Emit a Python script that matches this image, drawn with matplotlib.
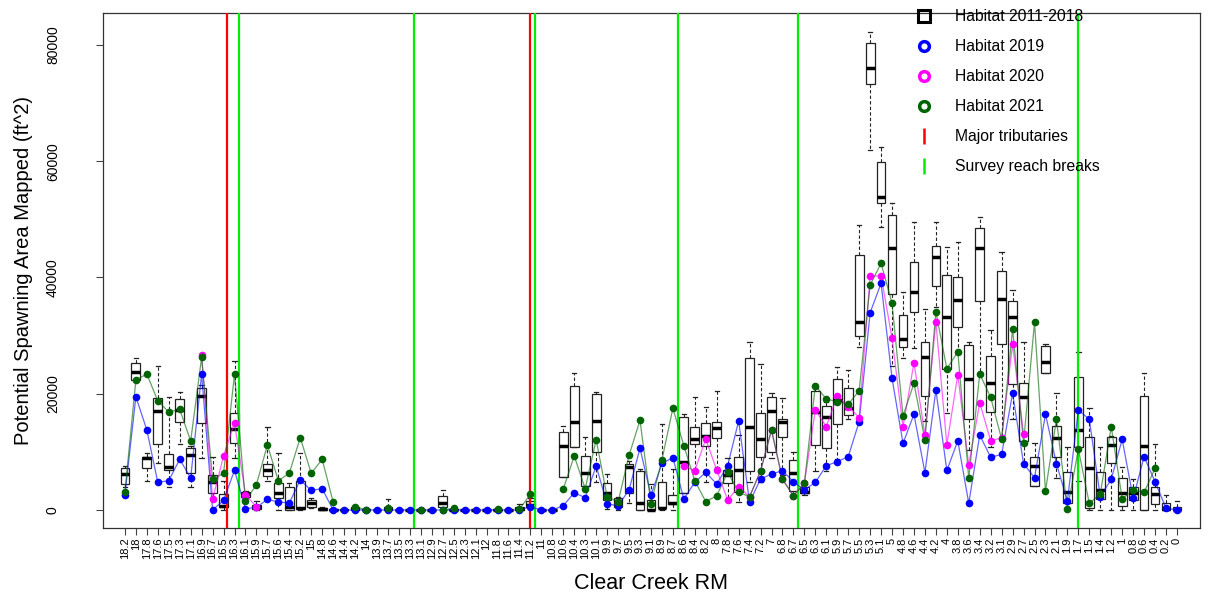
import numpy as np
import matplotlib
matplotlib.use("Agg")
import matplotlib.pyplot as plt
from matplotlib.lines import Line2D

plt.rcParams['font.family'] = ['Liberation Sans', 'DejaVu Sans']

nan = np.nan

# river mile labels, upstream -> downstream
rm_labels = ["18.2", "18", "17.8", "17.6", "17.5", "17.3", "17.1", "16.9", "16.7", "16.5",
             "16.3", "16.1", "15.9", "15.7", "15.6", "15.4", "15.2", "15", "14.8", "14.6",
             "14.4", "14.2", "14", "13.9", "13.7", "13.5", "13.3", "13.1", "12.9", "12.7",
             "12.5", "12.3", "12.1", "12", "11.8", "11.6", "11.4", "11.2", "11", "10.8",
             "10.6", "10.4", "10.3", "10.1", "9.9", "9.7", "9.5", "9.3", "9.1", "8.9",
             "8.7", "8.6", "8.4", "8.2", "8", "7.8", "7.6", "7.4", "7.2", "7",
             "6.8", "6.7", "6.5", "6.3", "6.1", "5.9", "5.7", "5.5", "5.3", "5.1",
             "5", "4.8", "4.6", "4.4", "4.2", "4", "3.8", "3.6", "3.4", "3.2",
             "3.1", "2.9", "2.7", "2.5", "2.3", "2.1", "1.9", "1.7", "1.5", "1.4",
             "1.2", "1", "0.8", "0.6", "0.4", "0.2", "0"]

# 2011-2018 box stats (whisker low, q1, median, q3, whisker high)
hab_lo = [4000, 22360, 4990, 8000, 4010, 11300, 4010, 8890, 2000, 0,
          8890, 2000, 0, 5050, 0, 0, 0, 300, 0, 0,
          0, 0, 0, 0, 0, 0, 0, 0, 0, 0,
          0, 0, 0, 0, 0, 0, 0, 400, 0, 0,
          5730, 10890, 4130, 4870, 170, 0, 1260, 0, 0, 0,
          0, 2870, 6760, 4760, 7340, 1720, 1430, 4760, 4760, 9000,
          6000, 2580, 2500, 6760, 6760, 8770, 15650, 28090, 61920, 48730,
          24770, 26090, 27810, 15360, 35000, 16700, 26950, 10320, 23510, 10890,
          12160, 15600, 8000, 4180, 23510, 5450, 1260, 5000, 0, 0,
          0, 0, 0, 0, 0, 0, 0]
hab_q1 = [4470, 22360, 7280, 11350, 6880, 15190, 6310, 14910, 2870, 570,
          11470, 2290, 200, 5850, 2010, 0, 170, 570, 0, 0,
          0, 0, 0, 0, 0, 0, 0, 0, 0, 570,
          0, 0, 0, 0, 0, 0, 0, 600, 0, 0,
          5730, 10890, 4130, 9920, 1720, 570, 2870, 0, 0, 300,
          1030, 2870, 11350, 11060, 12330, 4590, 3150, 6760, 9060, 10030,
          12500, 3270, 2870, 11180, 10610, 14790, 16340, 29980, 73270, 52860,
          37150, 28090, 34110, 19660, 38530, 24280, 31560, 15600, 35950, 16800,
          28550, 21670, 11920, 4180, 23510, 9060, 1260, 10890, 290, 1840,
          8140, 690, 1720, 0, 980, 0, 0]
hab_med = [6190, 23790, 8890, 17030, 7450, 17200, 9460, 19660, 4800, 740,
           13880, 2700, 500, 6880, 2870, 500, 400, 1150, 100, 0,
           0, 200, 0, 0, 200, 0, 0, 0, 0, 1260,
           0, 0, 0, 0, 0, 0, 200, 900, 0, 0,
           11010, 15190, 6420, 15370, 2870, 1490, 7340, 1260, 0, 400,
           1200, 8310, 12210, 12780, 14050, 6020, 6880, 14220, 12210, 17030,
           15190, 6310, 3100, 16860, 15940, 18920, 17490, 32390, 75970, 53780,
           45120, 29410, 37440, 26370, 43570, 33250, 36120, 22480, 45010, 21790,
           36240, 33250, 19380, 7620, 25400, 12440, 3150, 13760, 7170, 3440,
           11180, 2870, 2870, 11060, 2750, 170, 0]
hab_q3 = [7170, 25230, 9170, 19210, 9580, 19150, 10610, 21040, 6020, 2700,
          16630, 3040, 900, 7860, 4590, 3900, 5050, 1720, 300, 100,
          100, 600, 100, 0, 570, 0, 0, 0, 0, 2410,
          200, 0, 0, 0, 100, 0, 500, 1500, 0, 0,
          13360, 21390, 9340, 19900, 4590, 2010, 7860, 6710, 1720, 4800,
          2580, 15940, 14330, 15020, 15190, 6880, 9170, 26090, 16630, 19490,
          15600, 8600, 3900, 20520, 17890, 22530, 20930, 43860, 80270, 59800,
          50740, 33540, 42710, 28950, 45460, 40470, 40070, 28380, 48450, 26540,
          41110, 36000, 21900, 9060, 28210, 14500, 6480, 22820, 12610, 6480,
          12500, 5450, 3900, 19660, 3900, 1260, 500]
hab_hi = [7500, 26140, 9860, 24820, 19380, 20350, 11000, 21500, 9170, 5000,
          25630, 3300, 1500, 14220, 9750, 4590, 9750, 2000, 600, 300,
          300, 900, 200, 0, 1890, 0, 0, 100, 0, 3440,
          400, 0, 0, 100, 300, 0, 1030, 2000, 0, 0,
          14510, 23510, 12610, 20350, 6190, 2300, 8500, 7000, 4470, 14800,
          7000, 16510, 19380, 17660, 20520, 8890, 12900, 28840, 25110, 20180,
          19210, 10030, 4500, 21000, 18500, 24540, 24080, 49020, 82160, 62380,
          52750, 37440, 49480, 34570, 49530, 45300, 46150, 28950, 50450, 30960,
          44320, 37840, 28840, 11470, 28500, 20070, 10780, 27120, 17490, 10780,
          12800, 7450, 5270, 23620, 11350, 2580, 1600]

hab_2019 = [2580, 19490, 13760, 4760, 5050, 8720, 5500, 23390, 0, 1660,
            6820, 230, 460, 1830, 1380, 1200, 5160, 3380, 3670, 0,
            0, 0, 0, 0, 0, 0, 0, 0, 0, 0,
            0, 0, 0, 0, 0, 0, 0, 570, 0, 0,
            740, 2980, 2120, 7570, 1030, 740, 3440, 10610, 2520, 8000,
            9000, 1890, 4760, 6480, 4470, 7620, 15310, 1320, 5330, 6190,
            6760, 4870, 3440, 4760, 7620, 8310, 9170, 15190, 33940, 38990,
            22650, 11470, 16460, 6420, 20640, 6800, 11900, 1150, 12900, 9060,
            9580, 20070, 7970, 5560, 16460, 7970, 1550, 17200, 15600, 2290,
            5270, 12160, 2010, 9170, 4870, 290, 0]

hab_2020 = [nan, nan, nan, nan, nan, nan, nan, 26660, 1830, 9290,
            15020, 2640, 570, nan, nan, nan, nan, nan, nan, nan,
            nan, nan, nan, nan, nan, nan, nan, nan, nan, nan,
            nan, nan, nan, nan, nan, nan, nan, nan, nan, nan,
            nan, nan, nan, nan, nan, nan, nan, nan, nan, nan,
            nan, 7620, 6760, 12210, 6880, 1720, 4010, 2290, 6710, 13760,
            5270, 2460, 4590, 17200, 14330, 19610, 17800, 15880, 40250, 40250,
            29530, 14330, 25340, 12900, 32390, 11200, 23300, 7740, 18460, 11870,
            12440, 28550, 13070, nan, nan, nan, nan, nan, nan, nan,
            nan, nan, nan, nan, nan, nan, nan]

hab_2021 = [3150, 22360, 23390, 18750, 16860, 17310, 11870, 26260, 5270, 6310,
            23330, 1550, 4360, 11180, 5050, 6310, 12440, 6310, 8720, 1380,
            nan, 570, 0, nan, 290, nan, nan, 0, nan, 0,
            290, nan, nan, nan, 100, nan, 100, 2750, nan, nan,
            3610, 9290, 3670, 12090, 2290, 1380, 9400, 15420, 1090, 8600,
            17500, 11060, 5040, 1430, 2460, 6480, 3040, 2290, 6710, 13760,
            5270, 2460, 4590, 21390, 19090, 18630, 18170, 20530, 38700, 42430,
            35550, 16170, 21790, 12040, 34110, 24300, 27200, 5450, 23390, 19380,
            12160, 31080, 11580, 32280, 3270, 15600, 170, 10440, 1150, 2750,
            14330, 1890, 3440, 3040, 7170, nan, nan]

# vertical reference lines, in category-index units
tributary_pos = [9.35, 36.95]
reach_break_pos = [10.37, 26.39, 37.41, 50.46, 61.46, 86.98]

x = np.arange(len(rm_labels))

fig = plt.figure(figsize=(12.11, 5.93), dpi=100)
ax = fig.add_axes([103 / 1211, 65 / 593, 1097 / 1211, 515 / 593])

stats = []
for i in range(len(x)):
    stats.append(dict(whislo=hab_lo[i], q1=hab_q1[i], med=hab_med[i],
                      q3=hab_q3[i], whishi=hab_hi[i], fliers=[]))

ax.bxp(stats, positions=x, widths=0.8, showfliers=False, patch_artist=True,
       manage_ticks=False, capwidths=0.4,
       boxprops=dict(facecolor='white', edgecolor='#222222', linewidth=0.9),
       whiskerprops=dict(color='#222222', linewidth=0.8, linestyle=(0, (3, 2))),
       capprops=dict(color='#222222', linewidth=0.9),
       medianprops=dict(color='black', linewidth=2.5, solid_capstyle='butt'))

for p in tributary_pos:
    ax.axvline(p, color='#FF0000', lw=1.6, zorder=3)
for p in reach_break_pos:
    ax.axvline(p, color='#00EE00', lw=1.6, zorder=3)

series = [(hab_2019, '#0000FF'), (hab_2020, '#FF00FF'), (hab_2021, '#006400')]
for vals, col in series:
    v = np.array(vals, dtype=float)
    ax.plot(x, v, '-', color=col, lw=0.9, alpha=0.6, zorder=4)
    ax.plot(x, v, 'o', color=col, ms=5.5, mew=0, zorder=5)

ax.set_xlim(-2, 98.1)
ax.set_ylim(-3096, 85480)

ax.set_xticks(x)
ax.set_xticklabels(rm_labels, rotation=90, fontsize=8)
ax.set_yticks([0, 20000, 40000, 60000, 80000])
ax.set_yticklabels(["0", "20000", "40000", "60000", "80000"], rotation=90,
                   va='center', fontsize=10)
ax.tick_params(axis='x', length=5, width=0.8, color='#444444', pad=2)
ax.tick_params(axis='y', length=5, width=0.8, color='#444444', pad=26)
for s in ax.spines.values():
    s.set_color('#333333')
    s.set_linewidth(0.9)

ax.set_xlabel("Clear Creek RM", fontsize=15.5)
ax.xaxis.set_label_coords(0.5, -0.088)
ax.set_ylabel("Potential Spawning Area Mapped (ft^2)", fontsize=14.5)
ax.yaxis.set_label_coords(-0.0635, 0.5)

handles = [
    Line2D([], [], ls='none', marker='s', ms=8, mfc='none', mec='black', mew=2.2),
    Line2D([], [], ls='none', marker='o', ms=7, mfc='none', mec='#0000FF', mew=2.5),
    Line2D([], [], ls='none', marker='o', ms=7, mfc='none', mec='#FF00FF', mew=2.5),
    Line2D([], [], ls='none', marker='o', ms=7, mfc='none', mec='#006400', mew=2.5),
    Line2D([], [], ls='none', marker='|', ms=11, mec='#FF0000', mew=1.8),
    Line2D([], [], ls='none', marker='|', ms=11, mec='#00EE00', mew=1.8),
]
labels = ["Habitat 2011-2018", "Habitat 2019", "Habitat 2020", "Habitat 2021",
          "Major tributaries", "Survey reach breaks"]
fig.legend(handles, labels, loc='upper left', bbox_to_anchor=(908 / 1211, 1 - 9 / 593),
           frameon=False, fontsize=11.3, handlelength=2, handletextpad=1.0,
           labelspacing=0.96, borderpad=0, borderaxespad=0)

fig.savefig("out.png", dpi=100)
